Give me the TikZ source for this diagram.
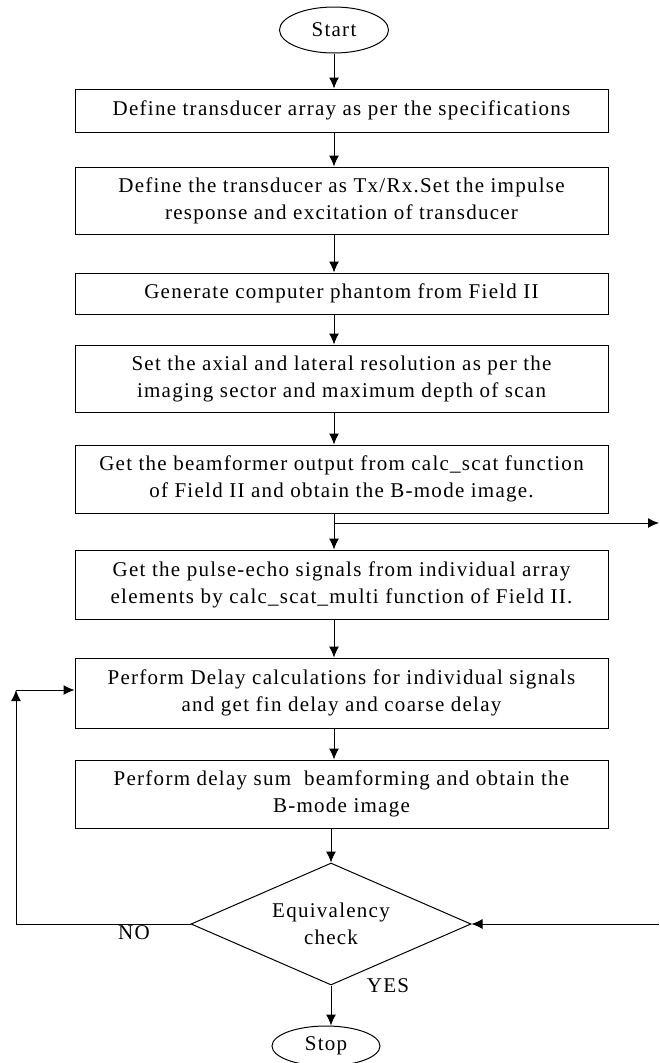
\documentclass[tikz,border=0pt]{standalone}
\usepackage{fontspec}
\setmainfont{Liberation Serif}[LetterSpace=6]
\usepackage{tikz}
\usetikzlibrary{shapes,arrows.meta,positioning}

\tikzset{
  procbox/.style={draw=black,line width=1pt,rectangle,minimum width=533pt,align=center,inner sep=2pt},
  termnode/.style={draw=black,line width=1pt,ellipse,minimum width=109pt,minimum height=46pt,inner sep=0pt},
  flowline/.style={line width=1pt,-{Latex[length=11pt,width=10pt]}}
}

\begin{document}
\begin{tikzpicture}[x=1pt,y=-1pt,font=\fontsize{21}{27}\selectfont]
	\useasboundingbox (0,0) rectangle (659,1063);
	%% the terminals
	\node[termnode] (start) at (334,30) {Start};
	\node[termnode,minimum width=108pt,minimum height=40pt] (stop) at (326,1046) {Stop};
	%% the process boxes
	\node[procbox,minimum height=43pt] (define) at (341.5,110.5) {Define transducer array as per the specifications};
	\node[procbox,minimum height=67pt] (txrx) at (341.5,200.5) {Define the transducer as Tx/Rx.Set the impulse\\response and excitation of transducer};
	\node[procbox,minimum height=41pt] (phantom) at (341.5,293.5) {Generate computer phantom from Field II};
	\node[procbox,minimum height=67pt] (resol) at (341.5,378.5) {Set the axial and lateral resolution as per the\\imaging sector and maximum depth of scan};
	\node[procbox,minimum height=68pt] (bmode) at (341.5,479) {Get the beamformer output from calc\_scat function\\of Field II and obtain the B-mode image.};
	\node[procbox,minimum height=69pt] (echo) at (341.5,584.5) {Get the pulse-echo signals from individual array\\elements by calc\_scat\_multi function of Field II.};
	\node[procbox,minimum height=70pt] (delay) at (341.5,693) {Perform Delay calculations for individual signals\\and get fin delay and coarse delay};
	\node[procbox,minimum height=68pt] (dsum) at (341.5,794) {Perform delay sum \ beamforming and obtain the\\B-mode image};
	%% the decision
	\node[draw=black,line width=1pt,diamond,aspect=2.3,minimum width=280pt,minimum height=122pt,inner sep=0pt,align=center] (check) at (331,924) {Equivalency\\check};
	\node (yes) at (388,986) {YES};
	\node (no) at (134,933) {NO};
	%% loose ends
	\coordinate (outr) at (659,523);
	\coordinate (inr) at (659,924);
	\coordinate (loop) at (16,690);
	%% the connectors
	\draw[flowline] (start) -- (start |- define.north);
	\draw[flowline] (define.south -| start) -- (txrx.north -| start);
	\draw[flowline] (txrx.south -| start) -- (phantom.north -| start);
	\draw[flowline] (phantom.south -| start) -- (resol.north -| start);
	\draw[flowline] (resol.south -| start) -- (bmode.north -| start);
	\draw[flowline] (bmode.south -| start) -- (echo.north -| start);
	\draw[flowline] (bmode.south -| start) |- (outr);
	\draw[flowline] (echo.south -| start) -- (delay.north -| start);
	\draw[flowline] (delay.south -| start) -- (dsum.north -| start);
	\draw[flowline] (dsum.south -| check) -- (check.north);
	\draw[flowline] (check.south) -- (stop.north -| check);
	\draw[flowline] (inr) -- (check.east);
	\draw[flowline] (check.west) -| (loop);
	\draw[flowline] (loop) -- (loop -| delay.west);
\end{tikzpicture}
\end{document}
